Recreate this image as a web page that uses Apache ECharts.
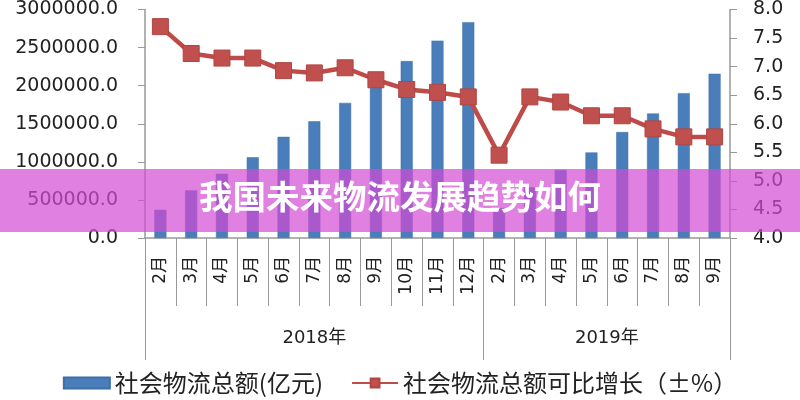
<!DOCTYPE html>
<html>
<head>
<meta charset="utf-8">
<script src="https://cdn.jsdelivr.net/npm/echarts@6/dist/echarts.min.js"></script>
<style>
html, body { margin: 0; padding: 0; background: #fff; }
#container { width: 800px; height: 400px; }
</style>
</head>
<body>
<div id="container"></div>
<script>
// 月份（2018年2月-12月，2019年2月-9月）
var months = ['2月', '3月', '4月', '5月', '6月', '7月', '8月', '9月', '10月', '11月', '12月',
              '2月', '3月', '4月', '5月', '6月', '7月', '8月', '9月'];
// 年份分组及每组月份数
var yearNames = ['2018年', '2019年'];
var yearSpans = [11, 8];
// 社会物流总额(亿元)
var totalValues = [370000, 625000, 843000, 1060000, 1328000, 1532000, 1774000, 1979000, 2323000, 2591000, 2834000,
                   395000, 665000, 894000, 1123000, 1391000, 1634000, 1902000, 2157000];
// 社会物流总额可比增长（±%）
var growthValues = [7.7, 7.23, 7.15, 7.15, 6.93, 6.89, 6.98, 6.77, 6.6, 6.55, 6.47,
                    5.45, 6.47, 6.38, 6.14, 6.14, 5.91, 5.77, 5.77];

//年份分界线和标签位置
var bounds = [0];
var mids = [];
yearSpans.forEach(function (n) {
    var start = bounds[bounds.length - 1];
    mids.push(start + n / 2);
    bounds.push(start + n);
});

var numFont = 'DejaVu Sans, Noto Sans CJK SC, sans-serif';
var cjkFont = 'Noto Sans CJK SC, sans-serif';
var dom = document.getElementById('container');
var myChart = echarts.init(dom);
var option = {
    animation: false,
    textStyle: { fontFamily: numFont },
    grid: { left: 145, right: 70, top: 3, bottom: 162 },
    legend: {
        bottom: 0,
        left: 'center',
        itemGap: 28,
        itemWidth: 46,
        itemHeight: 11,
        textStyle: { fontSize: 24, color: '#222', fontFamily: cjkFont },
        data: [
            { name: '社会物流总额(亿元)', icon: 'rect' },
            { name: '社会物流总额可比增长（±%）' }
        ]
    },
    xAxis: [
        {
            type: 'category',
            data: months,
            position: 'bottom',
            axisLine: { lineStyle: { color: '#999', width: 1.5 } },
            axisTick: { show: true, interval: 0, alignWithLabel: false, length: 68, lineStyle: { color: '#999', width: 1 } },
            axisLabel: {
                interval: 0,
                rotate: 90,
                margin: 18,
                fontSize: 17,
                color: '#222',
                fontFamily: numFont
            }
        },
        {
            type: 'value',
            min: 0,
            max: months.length,
            position: 'bottom',
            axisLine: { show: false },
            splitLine: { show: false },
            axisTick: { show: true, customValues: bounds, length: 122, lineStyle: { color: '#999' } },
            axisLabel: {
                customValues: mids,
                margin: 91,
                fontSize: 18,
                color: '#222',
                fontFamily: numFont,
                formatter: function (v) {
                    return yearNames[mids.indexOf(v)];
                }
            }
        }
    ],
    yAxis: [
        {
            type: 'value',
            min: 0,
            max: 3000000,
            interval: 500000,
            axisLine: { show: true, lineStyle: { color: '#999', width: 1.5 } },
            axisTick: { show: true, length: 7, lineStyle: { color: '#999' } },
            splitLine: { show: false },
            axisLabel: {
                fontSize: 19,
                color: '#222',
                margin: 27,
                formatter: function (v) { return v.toFixed(1); }
            }
        },
        {
            type: 'value',
            min: 4,
            max: 8,
            interval: 0.5,
            position: 'right',
            axisLine: { show: true, lineStyle: { color: '#999', width: 1.5 } },
            axisTick: { show: true, length: 7, lineStyle: { color: '#999' } },
            splitLine: { show: false },
            axisLabel: {
                fontSize: 19,
                color: '#222',
                margin: 23,
                formatter: function (v) { return v.toFixed(1); }
            }
        }
    ],
    series: [
        {
            name: '社会物流总额(亿元)',
            type: 'bar',
            xAxisIndex: 0,
            yAxisIndex: 0,
            barWidth: 12,
            itemStyle: { color: '#4a7ebb', borderColor: '#3d6ea8', borderWidth: 0.5 },
            data: totalValues
        },
        {
            name: '社会物流总额可比增长（±%）',
            type: 'line',
            xAxisIndex: 0,
            yAxisIndex: 1,
            symbol: 'rect',
            symbolSize: 16,
            lineStyle: { color: '#be4b48', width: 4.5 },
            itemStyle: { color: '#c0504d', borderColor: '#b04543', borderWidth: 1 },
            data: growthValues
        }
    ],
    //标题横幅
    graphic: [
        {
            type: 'rect',
            left: 0,
            top: 169,
            z: 100,
            shape: { width: 800, height: 63 },
            style: { fill: 'rgba(211,74,211,0.7)' }
        },
        {
            type: 'text',
            left: 'center',
            top: 180,
            z: 101,
            style: {
                text: '我国未来物流发展趋势如何',
                fill: '#fff',
                fontSize: 33.5,
                fontWeight: 'bold',
                fontFamily: cjkFont
            }
        }
    ]
};
myChart.setOption(option, true);
</script>
</body>
</html>
